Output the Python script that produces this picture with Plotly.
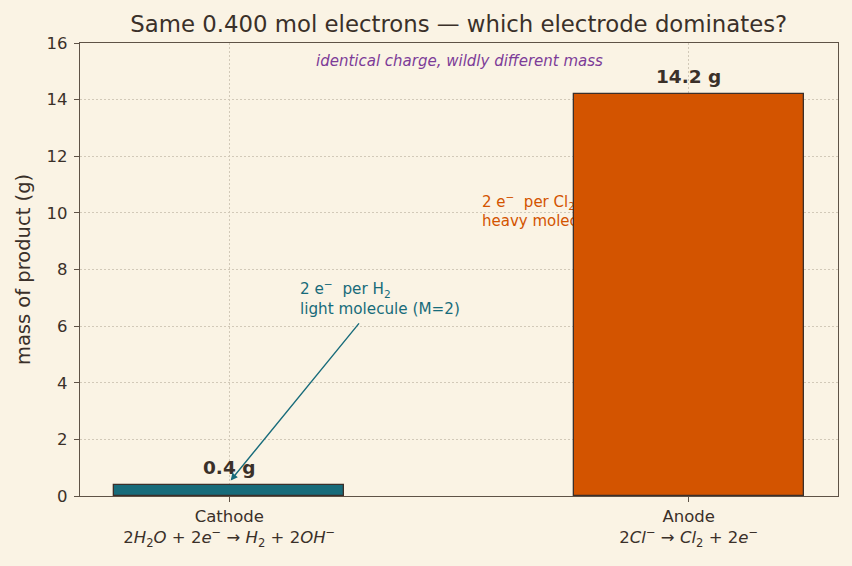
import plotly.graph_objects as go

# ---- data ----
electrodes = ["Cathode", "Anode"]
reactions = [
    "2<i>H</i><sub>2</sub><i>O</i> + 2<i>e</i><sup>−</sup> → <i>H</i><sub>2</sub> + 2<i>OH</i><sup>−</sup>",
    "2<i>Cl</i><sup>−</sup> → <i>Cl</i><sub>2</sub> + 2<i>e</i><sup>−</sup>",
]
masses = [0.4, 14.2]
bar_colors = ["#176B7A", "#D35400"]
y_ticks = [0, 2, 4, 6, 8, 10, 12, 14, 16]

BG = "#FAF3E4"
TXT = "#3A3029"
FONT = "DejaVu Sans"
x_pos = list(range(len(electrodes)))

fig = go.Figure()

# anode note drawn underneath the bars (hidden partially by the anode bar)
fig.add_trace(go.Scatter(
    x=[0.55], y=[10.0], mode="text",
    text=["2 e<sup>−</sup>  per Cl<sub>2</sub><br>heavy molecule (M=71)"],
    textposition="middle right",
    textfont=dict(family=FONT, size=15, color="#D35400"),
    hoverinfo="skip", showlegend=False, cliponaxis=False,
    xaxis="x", yaxis="y",
))

# bars on an overlaid subplot so they cover the note
fig.add_trace(go.Bar(
    x=x_pos, y=masses, width=0.5,
    marker=dict(color=bar_colors, line=dict(color="#3B2F2A", width=1.3)),
    showlegend=False, xaxis="x", yaxis="y2",
))

annotations = []
for xi, m in zip(x_pos, masses):
    annotations.append(dict(
        x=xi, y=m, xref="x", yref="y", text=f"<b>{m:.1f} g</b>",
        showarrow=False, yanchor="bottom", yshift=5,
        font=dict(family=FONT, size=18.5, color=TXT),
    ))

annotations.append(dict(
    x=0.5, y=0.96, xref="paper", yref="paper",
    text="<i>identical charge, wildly different mass</i>",
    showarrow=False, xanchor="center", yanchor="middle",
    font=dict(family=FONT, size=15, color="#7D3C98"),
))

annotations.append(dict(
    x=0.15, y=7.0, xref="x", yref="y",
    text="2 e<sup>−</sup>  per H<sub>2</sub><br>light molecule (M=2)",
    showarrow=False, xanchor="left", yanchor="middle", align="left",
    font=dict(family=FONT, size=15.2, color="#176B7A"),
))

annotations.append(dict(
    x=0.003, y=0.55, xref="x", yref="y",
    ax=0.285, ay=6.15, axref="x", ayref="y",
    text="", showarrow=True, arrowhead=2, arrowsize=1, arrowwidth=1.4,
    arrowcolor="#176B7A", standoff=0, startstandoff=0,
))

axis_common = dict(
    showline=True, linecolor="#5E5246", linewidth=1.2, mirror=True,
    ticks="outside", ticklen=5, tickcolor="#5E5246",
    showgrid=True, gridcolor="#D2C9B8", griddash="1.5px,2.5px", gridwidth=1,
    zeroline=False,
    tickfont=dict(family=FONT, size=16.5, color=TXT),
)

fig.update_layout(
    width=852, height=566,
    paper_bgcolor=BG, plot_bgcolor=BG,
    margin=dict(l=80, r=14, t=43, b=70),
    title=dict(
        text="Same 0.400 mol electrons — which electrode dominates?",
        x=0.5385, xanchor="center", y=0.958, yanchor="middle",
        font=dict(family=FONT, size=22.8, color=TXT),
    ),
    xaxis=dict(
        range=[-0.325, 1.325],
        tickvals=x_pos,
        ticktext=[f"{e}<br>{r}" for e, r in zip(electrodes, reactions)],
        **axis_common,
    ),
    yaxis=dict(
        range=[0, 16], tickvals=y_ticks,
        ticklabelstandoff=3,
        title=dict(text="mass of product (g)", standoff=10,
                   font=dict(family=FONT, size=19.5, color=TXT)),
        **axis_common,
    ),
    yaxis2=dict(range=[0, 16], overlaying="y", visible=False,
                showgrid=False),
    annotations=annotations,
    bargap=0,
)

fig.write_html("out.html")
